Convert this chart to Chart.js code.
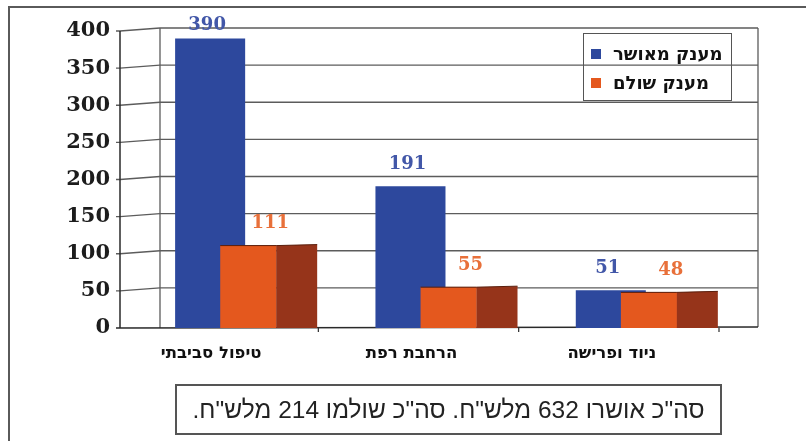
<!DOCTYPE html>
<html lang="he">
<head>
<meta charset="utf-8">
<script src="https://cdn.jsdelivr.net/npm/chart.js@4.4.1/dist/chart.umd.min.js"></script>
<style>
html,body{margin:0;padding:0;background:#fff;}
#wrap{position:relative;width:806px;height:441px;overflow:hidden;background:#fff;}
#frame{position:absolute;left:8px;top:6px;width:800px;height:440px;border-top:2px solid #5a5a5a;border-left:2px solid #5a5a5a;}
#c{position:absolute;left:0;top:0;}
#legend{position:absolute;left:583px;top:33px;width:149px;height:68px;border:1.5px solid #555;box-sizing:border-box;}
.item{position:absolute;left:7px;display:flex;align-items:center;font:bold 18px "DejaVu Sans";color:#111;white-space:nowrap;}
.sw{width:10px;height:10px;margin-right:12px;flex:none;}
#note{position:absolute;left:175px;top:384px;width:547px;height:51px;box-sizing:border-box;border:2px solid #555;font:24.5px "Liberation Sans";display:flex;align-items:center;justify-content:center;color:#222;}
</style>
</head>
<body>
<div id="wrap">
  <div id="frame"></div>
  <canvas id="c" width="806" height="441"></canvas>
  <div id="legend"></div>
  <div id="note" dir="rtl"></div>
</div>
<script>
// ---- data ----
const categories = ['טיפול סביבתי', 'הרחבת רפת', 'ניוד ופרישה'];
const seriesNames = ['מענק מאושר', 'מענק שולם'];
const approved = [390, 191, 51];
const paid = [111, 55, 48];
const yMin = 0, yMax = 400, yStep = 50;
const noteText = 'סה"כ אושרו 632 מלש"ח. סה"כ שולמו 214 מלש"ח.';

// ---- styles ----
const blue = '#2d489d', orange = '#e4581e', orangeSide = '#96341a';
const labelColors = ['#4257a8', '#e8703a'];

const frame3d = {
  id: 'frame3d',
  beforeDatasetsDraw(chart) {
    const {ctx, chartArea: a, scales: {x, y}} = chart;
    const ax = a.left - 9, dx = 40, dy = -3, bx = ax + dx, br = a.right + 28;
    const y0 = y.getPixelForValue(yMin), yTop = y.getPixelForValue(yMax);
    ctx.save();
    ctx.strokeStyle = '#5c5c5c';
    ctx.lineWidth = 1.3;
    y.ticks.forEach(t => {
      const py = y.getPixelForValue(t.value);
      if (t.value === yMin) return;
      ctx.beginPath();
      ctx.moveTo(ax - 4, py);
      ctx.lineTo(ax, py);
      ctx.lineTo(bx, py + dy);
      ctx.lineTo(br, py + dy);
      ctx.stroke();
    });
    ctx.beginPath();
    ctx.moveTo(bx, yTop + dy); ctx.lineTo(bx, y0);
    ctx.moveTo(br, yTop + dy); ctx.lineTo(br, y0 - 1);
    ctx.stroke();
    ctx.strokeStyle = '#2a2a2a';
    ctx.lineWidth = 1.5;
    ctx.beginPath();
    ctx.moveTo(ax, yTop); ctx.lineTo(ax, y0);
    ctx.moveTo(ax - 4, y0); ctx.lineTo(br, y0 - 1);
    ctx.stroke();
    const step = x.getPixelForValue(1) - x.getPixelForValue(0);
    ctx.lineWidth = 1.2;
    for (let i = 0; i < categories.length; i++) {
      const px = x.getPixelForValue(i) + step / 2 - 11;
      ctx.beginPath(); ctx.moveTo(px, y0); ctx.lineTo(px, y0 + 4); ctx.stroke();
    }
    ctx.restore();
  },
  afterDatasetsDraw(chart) {
    const {ctx} = chart;
    ctx.save();
    const m1 = chart.getDatasetMeta(1);
    m1.data.forEach(bar => bar.draw(ctx));
    m1.data.forEach(bar => {
      const p = bar.getProps(['x', 'y', 'base', 'width'], true);
      const xr = p.x + p.width / 2;
      ctx.fillStyle = orangeSide;
      ctx.beginPath();
      ctx.moveTo(xr, p.y);
      ctx.lineTo(xr + 41, p.y - 1);
      ctx.lineTo(xr + 41, p.base);
      ctx.lineTo(xr, p.base);
      ctx.closePath();
      ctx.fill();
      ctx.strokeStyle = '#5a1e0c';
      ctx.lineWidth = 1;
      ctx.beginPath();
      ctx.moveTo(p.x - p.width / 2, p.y);
      ctx.lineTo(xr, p.y);
      ctx.lineTo(xr + 41, p.y - 1);
      ctx.stroke();
    });
    ctx.font = 'bold 18px "DejaVu Serif"';
    ctx.textAlign = 'center';
    ctx.textBaseline = 'middle';
    [0, 1].forEach(di => {
      const meta = chart.getDatasetMeta(di);
      const vals = chart.data.datasets[di].data;
      meta.data.forEach((bar, i) => {
        const p = bar.getProps(['x', 'y'], true);
        const cx = di === 0 ? p.x - 3 : p.x + 22;
        const cy = Math.max(p.y - 22, 25);
        ctx.fillStyle = labelColors[di];
        ctx.fillText(String(vals[i]), cx, cy);
      });
    });
    ctx.restore();
  }
};

new Chart(document.getElementById('c'), {
  type: 'bar',
  data: {
    labels: categories,
    datasets: [
      {label: seriesNames[0], data: approved, backgroundColor: blue,
       categoryPercentage: 0.38, barPercentage: 1.84},
      {label: seriesNames[1], data: paid, backgroundColor: orange,
       categoryPercentage: 0.38, barPercentage: 1.47}
    ]
  },
  options: {
    responsive: false,
    maintainAspectRatio: false,
    animation: false,
    layout: {padding: {left: 0, right: 76, top: 31, bottom: 73}},
    plugins: {legend: {display: false}, tooltip: {enabled: false}},
    scales: {
      x: {
        offset: true,
        grid: {display: false},
        border: {display: false},
        ticks: {labelOffset: -18, padding: 8, color: '#111',
                font: {family: 'DejaVu Sans', weight: 'bold', size: 16.5}},
        afterFit(s) { s.height = 40; }
      },
      y: {
        min: yMin, max: yMax,
        ticks: {stepSize: yStep, padding: 11, color: '#1c1c1c',
                font: {family: 'DejaVu Serif', weight: 'bold', size: 21}},
        grid: {display: false},
        border: {display: false},
        afterFit(s) { s.width = 129; }
      }
    }
  },
  plugins: [frame3d]
});

const legend = document.getElementById('legend');
const swColors = [blue, orange];
seriesNames.forEach((n, i) => {
  const d = document.createElement('div');
  d.className = 'item';
  d.style.top = (i === 0 ? 9 : 38) + 'px';
  d.innerHTML = '<span class="sw" style="background:' + swColors[i] + '"></span><span>' + n + '</span>';
  legend.appendChild(d);
});
document.getElementById('note').textContent = noteText;
</script>
</body>
</html>
